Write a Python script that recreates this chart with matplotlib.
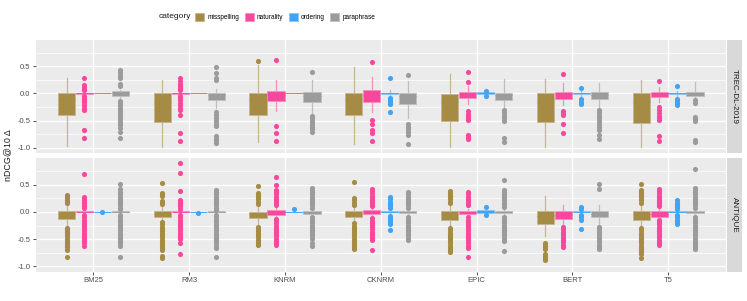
import matplotlib.pyplot as plt
import matplotlib.colors as mcolors
from matplotlib.patches import Patch
from matplotlib.ticker import FixedLocator, FormatStrFormatter

plt.rcParams['font.family'] = ['Liberation Sans', 'DejaVu Sans']

models = ["BM25", "RM3", "KNRM", "CKNRM", "EPIC", "BERT", "T5"]
categories = ["misspelling", "naturality", "ordering", "paraphrase"]
cat_colors = ["#A68B45", "#F8479C", "#40A4F6", "#9B9B9B"]
datasets = ["TREC-DL-2019", "ANTIQUE"]

# box stats per model: (whisker low, q1, median, q3, whisker high)
trec_misspelling_box = [(-0.96, -0.40, -0.12, 0.01, 0.29), (-0.99, -0.53, -0.15, 0.01, 0.25),
                        (-0.90, -0.39, -0.10, 0.00, 0.52), (-0.93, -0.39, -0.10, 0.00, 0.49),
                        (-0.99, -0.51, -0.15, -0.02, 0.35), (-0.99, -0.53, -0.15, 0.01, 0.27),
                        (-0.99, -0.54, -0.15, 0.01, 0.24)]
trec_misspelling_out = [[], [], [0.60], [], [], [], []]

trec_naturality_box = [(-0.03, -0.01, 0.0, 0.01, 0.03), (-0.03, -0.01, 0.0, 0.01, 0.03),
                       (-0.33, -0.14, -0.03, 0.05, 0.24), (-0.35, -0.16, -0.03, 0.07, 0.30),
                       (-0.20, -0.09, -0.02, 0.03, 0.14), (-0.22, -0.10, -0.02, 0.03, 0.20),
                       (-0.16, -0.07, -0.01, 0.03, 0.12)]
trec_naturality_out = [
    [0.29, 0.15, 0.12, 0.09, 0.06, -0.05, -0.08, -0.12, -0.16, -0.22, -0.26, -0.30, -0.68, -0.81],
    [0.28, 0.22, 0.18, 0.14, 0.10, 0.06, -0.05, -0.09, -0.13, -0.17, -0.22, -0.27, -0.30, -0.40, -0.73, -0.88],
    [0.62, -0.60, -0.73, -0.88],
    [0.58, -0.48, -0.57, -0.67, -0.73, -0.88],
    [0.40, 0.21, -0.33, -0.37, -0.41, -0.46, -0.49, -0.76, -0.80, -0.84],
    [0.35, -0.33, -0.36, -0.39, -0.56, -0.73],
    [0.23, -0.25, -0.30, -0.36, -0.41, -0.45, -0.48, -0.79, -0.87]]

trec_ordering_box = [(0, 0, 0, 0, 0), (0, 0, 0, 0, 0), (0, 0, 0, 0, 0),
                     (-0.05, -0.01, 0.0, 0.01, 0.07), (-0.04, -0.02, 0.0, 0.02, 0.04),
                     (-0.05, -0.01, 0.0, 0.01, 0.05), (-0.05, -0.01, 0.0, 0.01, 0.05)]
trec_ordering_out = [[], [], [], [0.29, -0.08, -0.11, -0.14, -0.17, -0.20, -0.34],
                     [0.04, -0.04], [0.10, -0.10, -0.15, -0.19], [0.14, -0.10, -0.14, -0.18, -0.22]]

trec_paraphrase_box = [(-0.11, -0.05, 0.0, 0.04, 0.07), (-0.26, -0.12, -0.03, 0.01, 0.09),
                       (-0.39, -0.16, -0.04, 0.02, 0.25), (-0.46, -0.19, -0.05, 0.01, 0.23),
                       (-0.27, -0.12, -0.03, 0.01, 0.26), (-0.27, -0.11, -0.03, 0.03, 0.20),
                       (-0.10, -0.04, -0.01, 0.02, 0.21)]
trec_paraphrase_out = [
    [0.43, 0.38, 0.32, 0.28, 0.17, 0.13, -0.14, -0.18, -0.22, -0.26, -0.30, -0.34, -0.38, -0.42,
     -0.46, -0.50, -0.54, -0.58, -0.63, -0.70, -0.81],
    [0.49, 0.38, 0.28, 0.24, -0.35, -0.40, -0.46, -0.51, -0.56, -0.60, -0.79, -0.83, -0.87, -0.91],
    [0.40, -0.42, -0.46, -0.50, -0.54, -0.58, -0.62, -0.66, -0.70],
    [0.33, -0.56, -0.62, -0.66, -0.70, -0.77, -0.93],
    [-0.31, -0.36, -0.41, -0.45, -0.50, -0.81, -0.90],
    [-0.31, -0.36, -0.41, -0.46, -0.51, -0.56, -0.62, -0.68, -0.76, -0.83],
    [-0.13, -0.17, -0.43, -0.47, -0.51, -0.85, -0.90]]

antique_misspelling_box = [(-0.27, -0.13, -0.04, 0.01, 0.14), (-0.17, -0.09, -0.03, 0.01, 0.10),
                           (-0.22, -0.11, -0.03, 0.00, 0.11), (-0.18, -0.10, -0.03, 0.01, 0.10),
                           (-0.27, -0.14, -0.04, 0.01, 0.14), (-0.45, -0.23, -0.08, 0.01, 0.30),
                           (-0.27, -0.14, -0.04, 0.01, 0.14)]
antique_misspelling_out = [
    [0.31, 0.28, 0.25, 0.22, 0.19, 0.16, -0.29, -0.33, -0.37, -0.41, -0.45, -0.49, -0.53, -0.57,
     -0.61, -0.65, -0.70, -0.83],
    [0.54, 0.35, 0.32, 0.29, 0.20, 0.17, 0.14, -0.19, -0.23, -0.27, -0.31, -0.35, -0.39, -0.43,
     -0.47, -0.51, -0.55, -0.59, -0.63, -0.67, -0.70, -0.81, -0.84],
    [0.48, 0.35, 0.31, 0.27, 0.23, 0.19, 0.15, -0.27, -0.31, -0.35, -0.39, -0.43, -0.47, -0.51,
     -0.55, -0.58, -0.61],
    [0.55, 0.25, 0.21, 0.17, 0.13, -0.21, -0.25, -0.29, -0.33, -0.37, -0.41, -0.45, -0.49, -0.53,
     -0.57, -0.61, -0.65, -0.69],
    [0.38, 0.35, 0.31, 0.27, 0.23, 0.19, 0.16, -0.30, -0.34, -0.38, -0.42, -0.46, -0.50, -0.54,
     -0.58, -0.62, -0.66, -0.70, -0.73],
    [-0.57, -0.61, -0.65, -0.69, -0.77, -0.81, -0.85, -0.89],
    [0.51, 0.41, 0.37, 0.33, 0.29, 0.25, 0.21, 0.17, -0.30, -0.34, -0.38, -0.42, -0.46, -0.50,
     -0.54, -0.58, -0.62, -0.66, -0.70, -0.74, -0.78, -0.84]]

antique_naturality_box = [(-0.03, -0.01, 0.0, 0.01, 0.03), (-0.03, -0.01, 0.0, 0.01, 0.03),
                          (-0.10, -0.06, -0.01, 0.03, 0.08), (-0.09, -0.04, 0.0, 0.04, 0.08),
                          (-0.06, -0.03, 0.0, 0.02, 0.06), (-0.25, -0.13, -0.05, 0.01, 0.13),
                          (-0.12, -0.09, -0.03, 0.01, 0.06)]
antique_naturality_out = [
    [0.70, 0.28, 0.25, 0.22, 0.19, 0.16, 0.13, 0.10, 0.07, -0.06, -0.10, -0.14, -0.18, -0.22,
     -0.26, -0.30, -0.34, -0.38, -0.42, -0.46, -0.50, -0.54, -0.58, -0.62],
    [0.90, 0.72, 0.38, 0.22, 0.18, 0.14, 0.10, 0.06, -0.06, -0.10, -0.14, -0.18, -0.22, -0.26,
     -0.30, -0.34, -0.38, -0.42, -0.46, -0.49, -0.57, -0.77],
    [0.64, 0.50, 0.40, 0.36, 0.32, 0.28, 0.24, 0.20, 0.16, 0.12, -0.13, -0.17, -0.21, -0.25,
     -0.29, -0.33, -0.37, -0.41, -0.45, -0.49, -0.53, -0.57, -0.61],
    [0.42, 0.38, 0.34, 0.30, 0.26, 0.22, 0.18, 0.14, 0.10, -0.12, -0.16, -0.20, -0.24, -0.28,
     -0.32, -0.36, -0.40, -0.44, -0.48, -0.52, -0.70],
    [0.36, 0.32, 0.28, 0.24, 0.20, 0.16, 0.12, -0.10, -0.14, -0.18, -0.22, -0.26, -0.30, -0.34,
     -0.38, -0.42, -0.46, -0.50, -0.54, -0.58, -0.62, -0.66, -0.83],
    [-0.28, -0.32, -0.36, -0.40, -0.44, -0.48, -0.52, -0.56, -0.60, -0.65],
    [0.42, 0.38, 0.34, 0.30, 0.26, 0.22, 0.18, 0.14, 0.10, -0.15, -0.19, -0.23, -0.27, -0.31,
     -0.35, -0.39, -0.43, -0.47, -0.51, -0.55, -0.58, -0.61]]

antique_ordering_box = [(0, 0, 0, 0, 0), (0, 0, 0, 0, 0), (0, 0, 0, 0, 0),
                        (-0.04, -0.01, 0.0, 0.01, 0.04), (-0.03, -0.02, 0.0, 0.03, 0.05),
                        (-0.03, -0.01, 0.0, 0.01, 0.03), (-0.04, -0.01, 0.0, 0.01, 0.04)]
antique_ordering_out = [
    [0.0], [-0.02], [0.06],
    [0.27, 0.23, 0.19, 0.15, 0.11, 0.07, -0.07, -0.11, -0.15, -0.19, -0.23, -0.33],
    [0.09, -0.06],
    [0.09, 0.06, -0.06, -0.10, -0.14, -0.31],
    [0.21, 0.17, 0.13, 0.09, 0.06, -0.06, -0.10, -0.14, -0.18, -0.22]]

antique_paraphrase_box = [(-0.03, -0.01, 0.0, 0.01, 0.03), (-0.03, -0.01, 0.0, 0.01, 0.03),
                          (-0.07, -0.04, 0.0, 0.01, 0.05), (-0.05, -0.02, 0.0, 0.01, 0.05),
                          (-0.05, -0.02, 0.0, 0.02, 0.05), (-0.24, -0.10, -0.03, 0.01, 0.13),
                          (-0.05, -0.02, 0.0, 0.01, 0.05)]
antique_paraphrase_out = [
    [0.52, 0.42, 0.36, 0.32, 0.28, 0.24, 0.20, 0.16, 0.12, 0.08, 0.05, -0.06, -0.10, -0.14, -0.18,
     -0.22, -0.26, -0.30, -0.34, -0.38, -0.42, -0.46, -0.50, -0.54, -0.58, -0.62, -0.83],
    [0.40, 0.36, 0.32, 0.28, 0.24, 0.20, 0.16, 0.12, 0.08, 0.04, -0.06, -0.10, -0.14, -0.18, -0.22,
     -0.26, -0.30, -0.34, -0.38, -0.42, -0.46, -0.50, -0.54, -0.58, -0.62, -0.66, -0.83],
    [0.44, 0.40, 0.36, 0.32, 0.28, 0.24, 0.20, 0.16, 0.12, 0.08, -0.09, -0.13, -0.17, -0.21,
     -0.25, -0.29, -0.33, -0.37, -0.41, -0.45, -0.49, -0.57, -0.62],
    [0.36, 0.32, 0.28, 0.24, 0.20, 0.16, 0.12, 0.07, -0.09, -0.13, -0.17, -0.21, -0.25, -0.29,
     -0.33, -0.37, -0.41, -0.45, -0.49, -0.52],
    [0.59, 0.41, 0.37, 0.33, 0.29, 0.25, 0.21, 0.17, 0.13, 0.09, -0.09, -0.13, -0.17, -0.21,
     -0.25, -0.29, -0.33, -0.37, -0.41, -0.45, -0.49, -0.53, -0.72],
    [0.51, 0.42, -0.28, -0.32, -0.36, -0.40, -0.44, -0.48, -0.52, -0.56, -0.60, -0.64, -0.68],
    [0.79, 0.44, 0.40, 0.36, 0.32, 0.28, 0.24, 0.20, 0.16, 0.12, 0.08, -0.09, -0.13, -0.17, -0.21,
     -0.25, -0.29, -0.33, -0.37, -0.41, -0.45, -0.49, -0.53, -0.57, -0.61, -0.65, -0.69]]

panel_data = {
    "TREC-DL-2019": [(trec_misspelling_box, trec_misspelling_out),
                     (trec_naturality_box, trec_naturality_out),
                     (trec_ordering_box, trec_ordering_out),
                     (trec_paraphrase_box, trec_paraphrase_out)],
    "ANTIQUE": [(antique_misspelling_box, antique_misspelling_out),
                (antique_naturality_box, antique_naturality_out),
                (antique_ordering_box, antique_ordering_out),
                (antique_paraphrase_box, antique_paraphrase_out)],
}


def lighten(c, amount):
    r, g, b = mcolors.to_rgb(c)
    bg = mcolors.to_rgb("#EBEBEB")
    return (r * amount + bg[0] * (1 - amount), g * amount + bg[1] * (1 - amount),
            b * amount + bg[2] * (1 - amount))


W, H = 747, 301
fig = plt.figure(figsize=(W / 100, H / 100), dpi=100)
left, right = 36, 725.6
panel_tops = [39.5, 158.0]
panel_h = 113.8
offsets = [-0.28125, -0.09375, 0.09375, 0.28125]
positions_base = list(range(1, len(models) + 1))

axes = []
for k, ds in enumerate(datasets):
    top = panel_tops[k]
    ax = fig.add_axes([left / W, 1 - (top + panel_h) / H, (right - left) / W, panel_h / H])
    ax.set_facecolor("#EBEBEB")
    for s in ax.spines.values():
        s.set_visible(False)
    ax.set_xlim(0.4, 7.6)
    ax.set_ylim(-1.10, 0.99)
    ax.yaxis.set_major_locator(FixedLocator([-1.0, -0.5, 0.0, 0.5]))
    ax.yaxis.set_minor_locator(FixedLocator([-0.75, -0.25, 0.25, 0.75]))
    ax.yaxis.set_major_formatter(FormatStrFormatter('%.1f'))
    ax.set_xticks(positions_base)
    ax.grid(which='major', color='white', linewidth=1.0)
    ax.grid(which='minor', axis='y', color='white', linewidth=0.5)
    ax.set_axisbelow(True)
    ax.tick_params(axis='both', which='major', labelsize=5.5, labelcolor='#4D4D4D',
                   color='#333333', length=2.5, width=0.6, pad=1.5)
    ax.tick_params(axis='y', which='minor', length=0)

    for j, cat in enumerate(categories):
        boxes, outs = panel_data[ds][j]
        c = cat_colors[j]
        light = lighten(c, 0.55)
        stats = []
        for (lo, q1, med, q3, hi), fl in zip(boxes, outs):
            stats.append(dict(whislo=lo, q1=q1, med=med, q3=q3, whishi=hi, fliers=fl))
        ax.bxp(stats, positions=[p + offsets[j] for p in positions_base], widths=0.18,
               patch_artist=True, showcaps=False, manage_ticks=False,
               boxprops=dict(facecolor=c, edgecolor=light, linewidth=0.6),
               whiskerprops=dict(color=light, linewidth=0.9),
               medianprops=dict(color=c, linewidth=0.6),
               flierprops=dict(marker='o', markerfacecolor=c, markeredgecolor='none',
                               markersize=3.7))

    # facet strip on the right
    sax = fig.add_axes([727 / W, 1 - (top + panel_h) / H, 15 / W, panel_h / H])
    sax.set_facecolor("#D9D9D9")
    sax.set_xticks([])
    sax.set_yticks([])
    for s in sax.spines.values():
        s.set_visible(False)
    sax.text(0.5, 0.5, ds, rotation=-90, ha='center', va='center', fontsize=5.8,
             color='#1A1A1A', transform=sax.transAxes)
    axes.append(ax)

axes[0].tick_params(axis='x', which='both', length=0, labelbottom=False)
axes[1].set_xticklabels(models)

fig.text(8 / W, 1 - 155 / H, "nDCG@10 Δ", rotation=90, ha='center', va='center',
         fontsize=6.4, color='#1A1A1A')

handles = [Patch(facecolor=c, edgecolor=lighten(c, 0.55), linewidth=0.6) for c in cat_colors]
fig.text(191 / W, 1 - 17 / H, "category", ha='right', va='center', fontsize=6.0, color='#1A1A1A')
fig.legend(handles, categories, loc='center left', bbox_to_anchor=(195 / W, 1 - 17 / H), ncol=4,
           frameon=False, fontsize=4.7, handlelength=1.4, handleheight=1.7, handletextpad=0.5,
           columnspacing=0.8, borderaxespad=0, borderpad=0)

fig.savefig("out.png", dpi=100)
